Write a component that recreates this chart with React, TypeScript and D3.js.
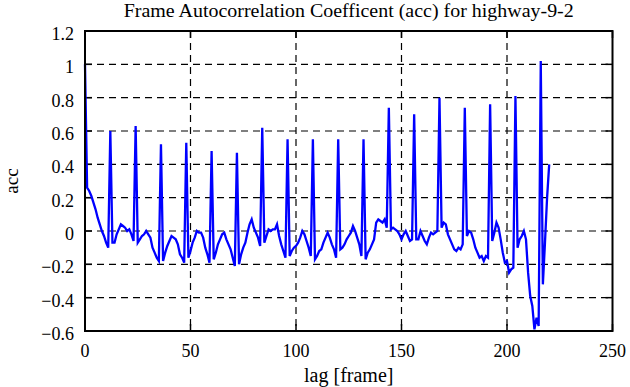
import * as React from "react";
import * as d3 from "d3";

// acc value per lag frame, 0..220
const accValues: number[] = [
  1.0, 0.26, 0.24, 0.21, 0.17, 0.13, 0.08, 0.04, 0.0, -0.03, -0.07, -0.1,
  0.6, -0.07, -0.07, -0.02, 0.01, 0.04, 0.03, 0.02, 0.0, 0.01, -0.02, -0.06,
  0.63, -0.07, -0.05, -0.03, -0.02, 0.0, -0.02, -0.04, -0.1, -0.13, -0.16, -0.18,
  0.52, -0.18, -0.13, -0.09, -0.06, -0.03, -0.04, -0.05, -0.08, -0.14, -0.16, -0.19,
  0.53, -0.16, -0.12, -0.07, -0.04, 0.0, -0.01, -0.01, -0.04, -0.1, -0.14, -0.19,
  0.48, -0.17, -0.13, -0.08, -0.05, -0.02, -0.01, -0.05, -0.08, -0.11, -0.16, -0.21,
  0.47, -0.2, -0.14, -0.1, -0.07, -0.01, 0.04, 0.07, 0.02, -0.01, -0.04, -0.09,
  0.62, -0.07, -0.03, 0.01, 0.0, 0.01, 0.01, 0.04, -0.03, -0.08, -0.12, -0.16,
  0.55, -0.15, -0.12, -0.1, -0.09, -0.07, -0.04, 0.0, -0.02, -0.06, -0.1, -0.15,
  0.55, -0.17, -0.15, -0.12, -0.11, -0.07, -0.04, -0.01, -0.04, -0.08, -0.11, -0.16,
  0.55, -0.11, -0.1, -0.08, -0.05, -0.03, -0.01, 0.03, 0.0, -0.04, -0.08, -0.15,
  0.55, -0.17, -0.13, -0.11, -0.08, -0.05, 0.05, 0.07, 0.06, 0.05, 0.07, 0.02,
  0.74, 0.01, 0.02, 0.01, 0.0, -0.02, -0.05, -0.02, 0.0, -0.03, -0.06, -0.05,
  0.7, -0.05, -0.05, 0.0, -0.03, -0.06, -0.08, -0.04, -0.01, -0.02, -0.01, 0.0,
  0.8, 0.02, 0.05, 0.04, -0.02, -0.05, -0.08, -0.11, -0.12, -0.1, -0.11, -0.08,
  0.74, -0.03, 0.0, -0.01, -0.05, -0.1, -0.13, -0.16, -0.15, -0.18, -0.15, -0.16,
  0.76, -0.06, -0.01, 0.05, 0.02, -0.05, -0.13, -0.19, -0.18, -0.25, -0.23, -0.22,
  0.81, -0.1, -0.05, -0.03, 0.0, -0.05, -0.25, -0.39, -0.45, -0.59, -0.52, -0.57,
  1.02, -0.32, -0.07, 0.2, 0.4,
];

const xTicks = [0, 50, 100, 150, 200, 250];
const yTicks = [-0.6, -0.4, -0.2, 0, 0.2, 0.4, 0.6, 0.8, 1, 1.2];

const title = "Frame Autocorrelation Coefficent (acc) for highway-9-2";
const xLabel = "lag [frame]";
const yLabel = "acc";

function accChart(svgRef: React.RefObject<SVGSVGElement>) {
  const svg = d3.select(svgRef.current);
  svg.selectAll("*").remove();

  const width = 630;
  const height = 387;
  const margin = { top: 31, right: 17.5, bottom: 56, left: 85 };
  const font = '"Liberation Serif", "Times New Roman", serif';
  const tickLen = 7;

  const xScale = d3
    .scaleLinear()
    .domain([0, 250])
    .range([margin.left, width - margin.right]);

  const yScale = d3
    .scaleLinear()
    .domain([-0.6, 1.2])
    .range([height - margin.bottom, margin.top]);

  svg.attr("width", width).attr("height", height);

  // dashed grid
  const grid = svg.append("g").attr("stroke", "#000").attr("stroke-width", 1.2).attr("stroke-dasharray", "7,5");
  grid
    .selectAll("line.gx")
    .data(xTicks.slice(1, -1))
    .enter()
    .append("line")
    .attr("x1", (d) => xScale(d))
    .attr("x2", (d) => xScale(d))
    .attr("y1", yScale(1.2))
    .attr("y2", yScale(-0.6));
  grid
    .selectAll("line.gy")
    .data(yTicks.slice(1, -1))
    .enter()
    .append("line")
    .attr("x1", xScale(0))
    .attr("x2", xScale(250))
    .attr("y1", (d) => yScale(d))
    .attr("y2", (d) => yScale(d));

  // inward ticks on all four sides
  const ticks = svg.append("g").attr("stroke", "#000").attr("stroke-width", 1.5);
  xTicks.forEach((t) => {
    ticks.append("line").attr("x1", xScale(t)).attr("x2", xScale(t)).attr("y1", yScale(-0.6)).attr("y2", yScale(-0.6) - tickLen);
    ticks.append("line").attr("x1", xScale(t)).attr("x2", xScale(t)).attr("y1", yScale(1.2)).attr("y2", yScale(1.2) + tickLen);
  });
  yTicks.forEach((t) => {
    ticks.append("line").attr("x1", xScale(0)).attr("x2", xScale(0) + tickLen).attr("y1", yScale(t)).attr("y2", yScale(t));
    ticks.append("line").attr("x1", xScale(250)).attr("x2", xScale(250) - tickLen).attr("y1", yScale(t)).attr("y2", yScale(t));
  });

  // the data line
  const line = d3
    .line<number>()
    .x((_d, i) => xScale(i))
    .y((d) => yScale(d));

  svg
    .append("path")
    .attr("d", line(accValues))
    .attr("fill", "none")
    .attr("stroke", "#0000ff")
    .attr("stroke-width", 2.3)
    .attr("stroke-linejoin", "miter");

  // frame
  svg
    .append("rect")
    .attr("x", xScale(0))
    .attr("y", yScale(1.2))
    .attr("width", xScale(250) - xScale(0))
    .attr("height", yScale(-0.6) - yScale(1.2))
    .attr("fill", "none")
    .attr("stroke", "#000")
    .attr("stroke-width", 2);

  const text = svg.append("g").attr("font-family", font).attr("font-size", 18).attr("fill", "#000");

  text
    .selectAll("text.xt")
    .data(xTicks)
    .enter()
    .append("text")
    .attr("x", (d) => xScale(d))
    .attr("y", yScale(-0.6) + 26)
    .attr("text-anchor", "middle")
    .text((d) => String(d));

  text
    .selectAll("text.yt")
    .data(yTicks)
    .enter()
    .append("text")
    .attr("x", xScale(0) - 11)
    .attr("y", (d) => yScale(d) + 9)
    .attr("text-anchor", "end")
    .text((d) => d3.format("")(+d.toFixed(1)));

  text
    .append("text")
    .attr("x", (xScale(0) + xScale(250)) / 2)
    .attr("y", 17)
    .attr("font-size", 18.5)
    .attr("textLength", 450)
    .attr("lengthAdjust", "spacingAndGlyphs")
    .attr("text-anchor", "middle")
    .text(title);

  text
    .append("text")
    .attr("x", (xScale(0) + xScale(250)) / 2)
    .attr("y", 382)
    .attr("font-size", 20)
    .attr("text-anchor", "middle")
    .text(xLabel);

  text
    .append("text")
    .attr("transform", `translate(18, ${(yScale(1.2) + yScale(-0.6)) / 2}) rotate(-90)`)
    .attr("font-size", 19)
    .attr("text-anchor", "middle")
    .text(yLabel);
}

export default function App() {
  const svg = React.useRef<SVGSVGElement>(null);
  React.useEffect(() => {
    accChart(svg);
  }, [svg]);

  return <svg ref={svg} style={{ position: "fixed", left: 0, top: 0, background: "#fff" }} />;
}
